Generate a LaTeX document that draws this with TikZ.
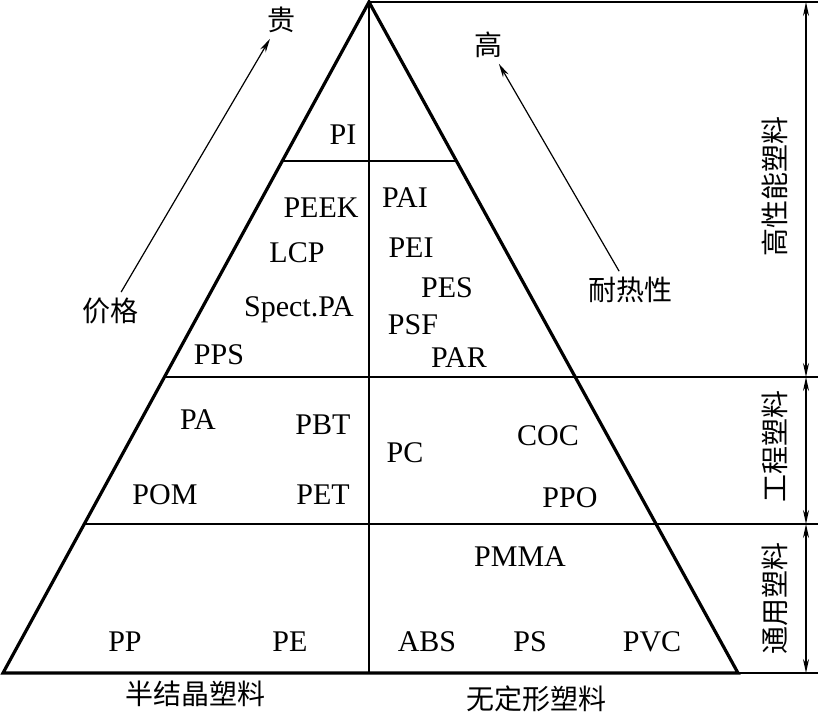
\documentclass[tikz,border=0pt]{standalone}
\usepackage{fontspec}
\setmainfont{Liberation Serif}
\newfontfamily\cjk{Noto Sans CJK SC}
\usetikzlibrary{arrows.meta}

\begin{document}
\begin{tikzpicture}[x=0.5pt,y=-0.5pt,
edge/.style={line width=1.6pt},
rule/.style={line width=0.7pt},
flow/.style={-{Stealth[length=7pt,width=3.2pt]},line width=0.6pt,shorten <=2pt,shorten >=2pt},
dim/.style={{Stealth[length=7pt,width=3pt]}-{Stealth[length=7pt,width=3pt]},line width=0.7pt},
lbl/.style={font=\fontsize{15}{17}\selectfont,inner sep=1pt},
zh/.style={font=\cjk\fontsize{14}{16}\selectfont,inner sep=1pt}]
\useasboundingbox (0,0) rectangle (818,717);
\coordinate (top) at (369,2);
\coordinate (bl) at (3,673);
\coordinate (br) at (738,673);
\coordinate (pl) at (282,161);
\coordinate (pr) at (456,161);
\coordinate (el) at (164.5,377);
\coordinate (gl) at (84,524);
\coordinate (mid) at (369,673);
\coordinate (d0) at (806,2);
\coordinate (d1) at (806,377);
\coordinate (d2) at (806,524);
\coordinate (d3) at (806,673);
\draw[rule] (top)--(mid);
\draw[rule] (pl)--(pr);
\draw[rule] (el)--(818,377);
\draw[rule] (gl)--(818,524);
\draw[rule] (top)--(818,2);
\draw[rule] (br)--(818,673);
\draw[edge,line join=miter] (bl)--(top)--(br)--cycle;
\draw[dim] (d0)--(d1);
\draw[dim] (d1)--(d2);
\draw[dim] (d2)--(d3);
\node[zh,rotate=90] (high) at (775,186) {高性能塑料};
\node[zh,rotate=90] (eng) at (775,446) {工程塑料};
\node[zh,rotate=90] (gen) at (775,598) {通用塑料};
\node[zh] (gui) at (281,20) {贵};
\node[zh] (jiage) at (110,311) {价格};
\node[zh] (gao) at (488,45) {高};
\node[zh] (naire) at (630,290) {耐热性};
\draw[flow] (jiage)--(gui);
\draw[flow] (naire)--(gao);
\node[lbl] (pi) at (343,135) {PI};
\node[lbl] (peek) at (321,208) {PEEK};
\node[lbl] (lcp) at (297,253) {LCP};
\node[lbl] (spa) at (299,310) {Spect.PA};
\node[lbl] (pps) at (219,355) {PPS};
\node[lbl] (pai) at (405,198) {PAI};
\node[lbl] (pei) at (411,248) {PEI};
\node[lbl] (pes) at (447,288) {PES};
\node[lbl] (psf) at (413,325) {PSF};
\node[lbl] (par) at (459,358) {PAR};
\node[lbl] (pa) at (198,420) {PA};
\node[lbl] (pbt) at (323,425) {PBT};
\node[lbl] (pc) at (405,453) {PC};
\node[lbl] (coc) at (548,436) {COC};
\node[lbl] (pom) at (165,495) {POM};
\node[lbl] (pet) at (323,495) {PET};
\node[lbl] (ppo) at (570,498) {PPO};
\node[lbl] (pmma) at (520,557) {PMMA};
\node[lbl] (pp) at (125,642) {PP};
\node[lbl] (pe) at (290,642) {PE};
\node[lbl] (abs) at (427,642) {ABS};
\node[lbl] (ps) at (530,642) {PS};
\node[lbl] (pvc) at (652,642) {PVC};
\node[zh] (semi) at (195,694) {半结晶塑料};
\node[zh] (amor) at (536,699) {无定形塑料};
\end{tikzpicture}
\end{document}
